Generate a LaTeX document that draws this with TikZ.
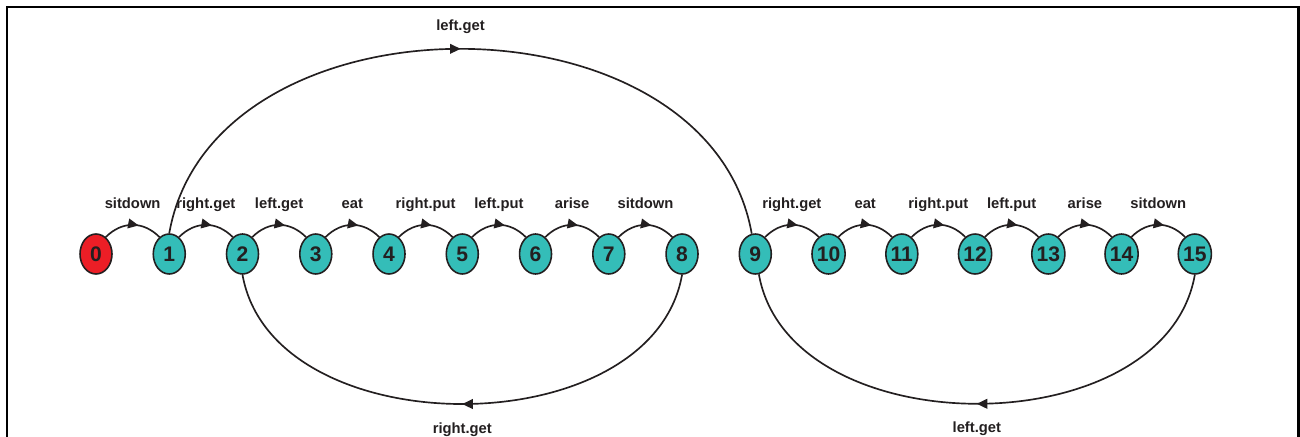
\documentclass[tikz,border=0pt]{standalone}
\usepackage{fontspec}
\setmainfont{Liberation Sans}
\usetikzlibrary{positioning,shapes.geometric,arrows.meta,decorations.markings}

\definecolor{statecyan}{RGB}{52,189,184}
\definecolor{startred}{RGB}{236,30,38}
\definecolor{inkgray}{RGB}{35,31,32}

\tikzset{
  state/.style={draw=inkgray, ellipse, line width=0.9pt, fill=statecyan, on grid,
    minimum width=0.64cm, minimum height=0.8cm, inner sep=0pt, text=inkgray,
    font=\bfseries\fontsize{12}{12}\selectfont},
  trans/.style={draw=inkgray, line width=0.95pt, postaction={decorate},
    decoration={markings, mark=at position #1 with {\arrow[inkgray]{Triangle[length=6pt,width=5.5pt]}}}},
  trans/.default=0.6,
  lbl/.style={anchor=base, inner sep=0pt, text=inkgray,
    font=\bfseries\fontsize{8.4}{9}\selectfont}
}

\begin{document}
\begin{tikzpicture}[x=0.02cm, y=0.02cm]
  \useasboundingbox (0,0) rectangle (1300,-436);
  \draw[line width=1.2pt] (7,-7) rectangle (1298.5,-470);

  % states
  \node[state, fill=startred] (n0) at (96,-254) {0};
  \foreach \i [count=\j from 0] in {1,...,15}
    \node[state, right=1.4654cm of n\j] (n\i) {\i};

  % transitions along the row
  \foreach \i/\j/\txt in {0/1/sitdown, 1/2/right.get, 2/3/left.get, 3/4/eat,
      4/5/right.put, 5/6/left.put, 6/7/arise, 7/8/sitdown,
      9/10/right.get, 10/11/eat, 11/12/right.put, 12/13/left.put,
      13/14/arise, 14/15/sitdown}
    \draw[trans] (n\i.60) to[out=45, in=135, looseness=1.1]
      node[lbl, yshift=0.32cm] {\txt} (n\j.120);

  % long arcs
  \draw[trans=0.5] (n1.north) to[out=80, in=100, distance=5cm]
    node[lbl, yshift=0.36cm] {left.get} (n9.100);
  \draw[trans=0.5] (n8.south) to[out=-100, in=-80, distance=3.5cm]
    node[lbl, yshift=-0.58cm] {right.get} (n2.south);
  \draw[trans=0.5] (n15.south) to[out=-100, in=-80, distance=3.5cm]
    node[lbl, yshift=-0.58cm] {left.get} (n9.-80);
\end{tikzpicture}
\end{document}
